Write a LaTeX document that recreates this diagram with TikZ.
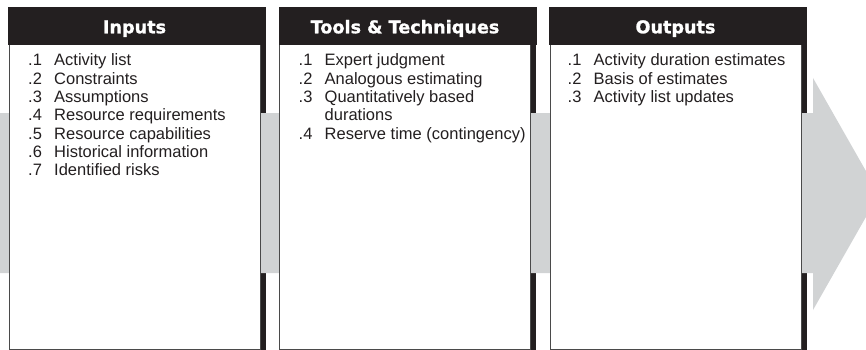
\documentclass[tikz,border=0pt]{standalone}
\usepackage{fontspec}
\setmainfont{Liberation Sans}
\newfontfamily\hdrfont{DejaVu Sans}[BoldFeatures={FakeBold=1.2}]
\definecolor{hdrblack}{HTML}{231F20}
\definecolor{arrowgray}{HTML}{D1D3D4}
\definecolor{bordergray}{HTML}{4A4A4A}
\newcommand{\itm}[2]{\makebox[26pt][l]{.#1}#2}
\newcommand{\itemcol}[1]{\begin{tabular}[t]{@{}l@{}}#1\end{tabular}}
\begin{document}
\begin{tikzpicture}[x=1pt,y=-1pt,
  panel/.style={draw=bordergray, line width=1pt, fill=white, inner sep=0pt,
    minimum width=251pt, minimum height=342pt, anchor=north west},
  hdr/.style={fill=hdrblack, inner sep=0pt, minimum width=258pt,
    minimum height=37.5pt, anchor=north west},
  hdrtext/.style={text=white, font=\hdrfont\bfseries\fontsize{17.6}{20}\selectfont,
    inner sep=0pt, anchor=base},
  itemlist/.style={font=\fontsize{16.5}{18.3}\selectfont,
    inner sep=0pt, anchor=base west, text=hdrblack},
  shadowbar/.style={fill=hdrblack}]
\useasboundingbox (0,0) rectangle (866,350);
\begin{scope}
  \clip (0,0) rectangle (866,350);
  \foreach \r in {260,530,801}{\fill[shadowbar] (\r,7) rectangle (\r+6,350);}
  \fill[arrowgray] (0,113) -- (813,113) -- (813,78) -- (879,194) -- (813,310)
     -- (813,273) -- (0,273) -- cycle;
\end{scope}
% panels
\node[panel] (inbox) at (9,7) {};
\node[panel] (ttbox) at (279,7) {};
\node[panel] (outbox) at (549.5,7) {};
% headers
\node[hdr] (inhdr) at (8,7) {};
\node[hdr] (tthdr) at (278.5,7) {};
\node[hdr] (outhdr) at (549,7) {};
\node[hdrtext] (intitle) at (134.5,33.3) {Inputs};
\node[hdrtext] (tttitle) at (405,33.3) {Tools \& Techniques};
\node[hdrtext] (outtitle) at (675.5,33.3) {Outputs};
% lists
\node[itemlist] (inlist) at (28,66) {\itemcol{\itm{1}{Activity list}\\
  \itm{2}{Constraints}\\ \itm{3}{Assumptions}\\ \itm{4}{Resource requirements}\\
  \itm{5}{Resource capabilities}\\ \itm{6}{Historical information}\\
  \itm{7}{Identified risks}}};
\node[itemlist] (ttlist) at (298.5,66) {\itemcol{\itm{1}{Expert judgment}\\
  \itm{2}{Analogous estimating}\\ \itm{3}{Quantitatively based}\\
  \hspace*{26pt}durations\\ \itm{4}{Reserve time (contingency)}}};
\node[itemlist] (outlist) at (567.5,66) {\itemcol{\itm{1}{Activity duration estimates}\\
  \itm{2}{Basis of estimates}\\ \itm{3}{Activity list updates}}};
\end{tikzpicture}
\end{document}
